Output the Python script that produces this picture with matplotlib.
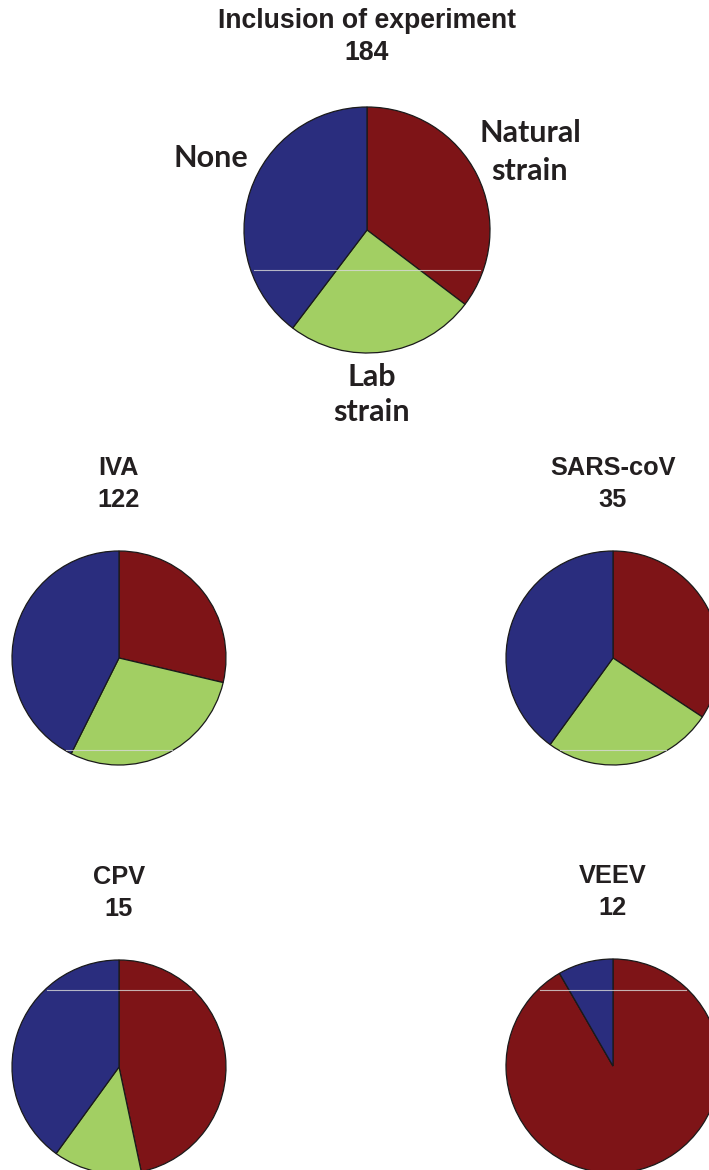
import matplotlib
matplotlib.use('Agg')
import matplotlib.pyplot as plt

# slice order: Natural strain, Lab strain, None
colors = ['#7E1417', '#A2CF63', '#2A2D7E']

main_title = 'Inclusion of experiment'
main_vals = [65, 46, 73]
main_labels = ['Natural\nstrain', 'Lab\nstrain', 'None']

virus_names = ['IVA', 'SARS-coV', 'CPV', 'VEEV']
natural = [35, 12, 7, 11]
lab = [35, 9, 2, 0]
none = [52, 14, 6, 1]

W, H = 709, 1170
DPI = 100
fig = plt.figure(figsize=(W / DPI, H / DPI), dpi=DPI)


def pie_at(cx, cy, r, vals, scan_y=None):
    pad = 4
    s = r + pad
    ax = fig.add_axes([(cx - s) / W, 1 - (cy + s) / H, 2 * s / W, 2 * s / H])
    ax.pie(vals, colors=colors, startangle=90, counterclock=False, radius=1,
           wedgeprops=dict(edgecolor='#1a1a1a', linewidth=0.9))
    lim = s / r
    ax.set_xlim(-lim, lim)
    ax.set_ylim(-lim, lim)
    ax.set_aspect('equal')
    ax.axis('off')
    if scan_y is not None:
        # faint scan line seen across the original figure
        yy = (cy - scan_y) / r
        half = (1 - yy ** 2) ** 0.5 * 0.97
        ax.plot([-half, half], [yy, yy], color='#d9d9d9', lw=0.8, alpha=0.8)
    return ax


def two_lines(x, y, top, bottom, gap=32, **kw):
    fig.text(x / W, 1 - y / H, top, ha='center', va='center', **kw)
    fig.text(x / W, 1 - (y + gap) / H, bottom, ha='center', va='center', **kw)


tkw = dict(fontsize=19.2, fontweight='bold', family='Liberation Sans', color='#231F20')
skw = dict(tkw, fontsize=18.3)
lkw = dict(fontsize=22, fontweight='bold', family='Lato', color='#231F20')

# main pie
pie_at(367, 230, 123, main_vals, scan_y=270)
two_lines(367, 21, main_title, str(sum(main_vals)), **tkw)
nat, labl, non = main_labels
two_lines(530, 133, *nat.split('\n'), gap=38, **lkw)
two_lines(372, 377, *labl.split('\n'), gap=35, **lkw)
fig.text(211 / W, 1 - 158 / H, non, ha='center', va='center', **lkw)

# per-virus pies
centers = [(119, 658), (613, 658), (119, 1067), (613, 1066)]
scan = [750, 750, 990, 990]
for name, a, b, c, (cx, cy), sy in zip(virus_names, natural, lab, none, centers, scan):
    pie_at(cx, cy, 107, [a, b, c], scan_y=sy)
    two_lines(cx, cy - 190, name, str(a + b + c), **skw)

fig.savefig('out.png', dpi=DPI)
